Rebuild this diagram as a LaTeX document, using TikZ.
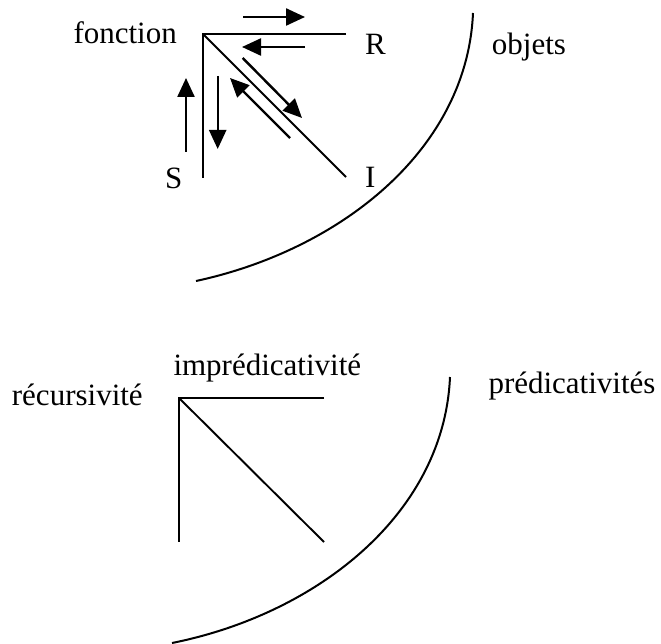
\documentclass[tikz,border=0pt]{standalone}
\usepackage{fontspec}
\setmainfont{Liberation Serif}
\usetikzlibrary{arrows.meta}
\tikzset{
  lbl/.style={anchor=base west, inner sep=0pt, font=\fontsize{31}{36}\selectfont},
  edge/.style={line width=1.9pt},
  arr/.style={line width=2.4pt, -{Triangle[length=19pt,width=17pt]}},
  bound/.style={line width=2pt}
}
\begin{document}
\begin{tikzpicture}[x=1pt,y=-1pt]
\useasboundingbox (0,0) rectangle (661,644);
% ---- top diagram ----
\coordinate (f) at (203,34);
\coordinate (r) at (346,34);
\coordinate (s) at (203,178);
\coordinate (i) at (346,177);
\draw[edge] (r) -- (f) -- (s);
\draw[edge] (f) -- (i);
\node[lbl] (tf) at (73.3,43.3) {fonction};
\node[lbl] (tR) at (365,55) {R};
\node[lbl] (tS) at (165,188.3) {S};
\node[lbl] (tI) at (365,188) {I};
\node[lbl] (tO) at (491.7,55) {objets};
% arrows
\coordinate (a1s) at (243,17);  \coordinate (a1e) at (305,17);
\coordinate (a2s) at (305,47);  \coordinate (a2e) at (242,47);
\coordinate (a3s) at (242.7,58); \coordinate (a3e) at (302,118);
\coordinate (a4s) at (290,138); \coordinate (a4e) at (230,78);
\coordinate (a5s) at (186,152); \coordinate (a5e) at (186,78);
\coordinate (a6s) at (217.7,76); \coordinate (a6e) at (217.7,149);
\draw[arr] (a1s) -- (a1e);
\draw[arr] (a2s) -- (a2e);
\draw[arr] (a3s) -- (a3e);
\draw[arr] (a4s) -- (a4e);
\draw[arr] (a5s) -- (a5e);
\draw[arr] (a6s) -- (a6e);
% boundary curve
\coordinate (b1) at (473,13);
\coordinate (b2) at (196,281);
\draw[bound] (b1) .. controls (467,150) and (340,250) .. (b2);
% ---- bottom diagram ----
\coordinate (g) at (179.3,398.3);
\coordinate (gr) at (324,398.3);
\coordinate (gs) at (179.3,542);
\coordinate (gi) at (324,542);
\draw[edge] (gr) -- (g) -- (gs);
\draw[edge] (g) -- (gi);
\node[lbl] (tImp) at (173.3,375) {imprédicativité};
\node[lbl] (tRec) at (11.7,405) {récursivité};
\node[lbl] (tPre) at (488.3,393) {prédicativités};
\coordinate (c1) at (450,377);
\coordinate (c2) at (172,643);
\draw[bound] (c1) .. controls (444,514) and (317,614) .. (c2);
\end{tikzpicture}
\end{document}
